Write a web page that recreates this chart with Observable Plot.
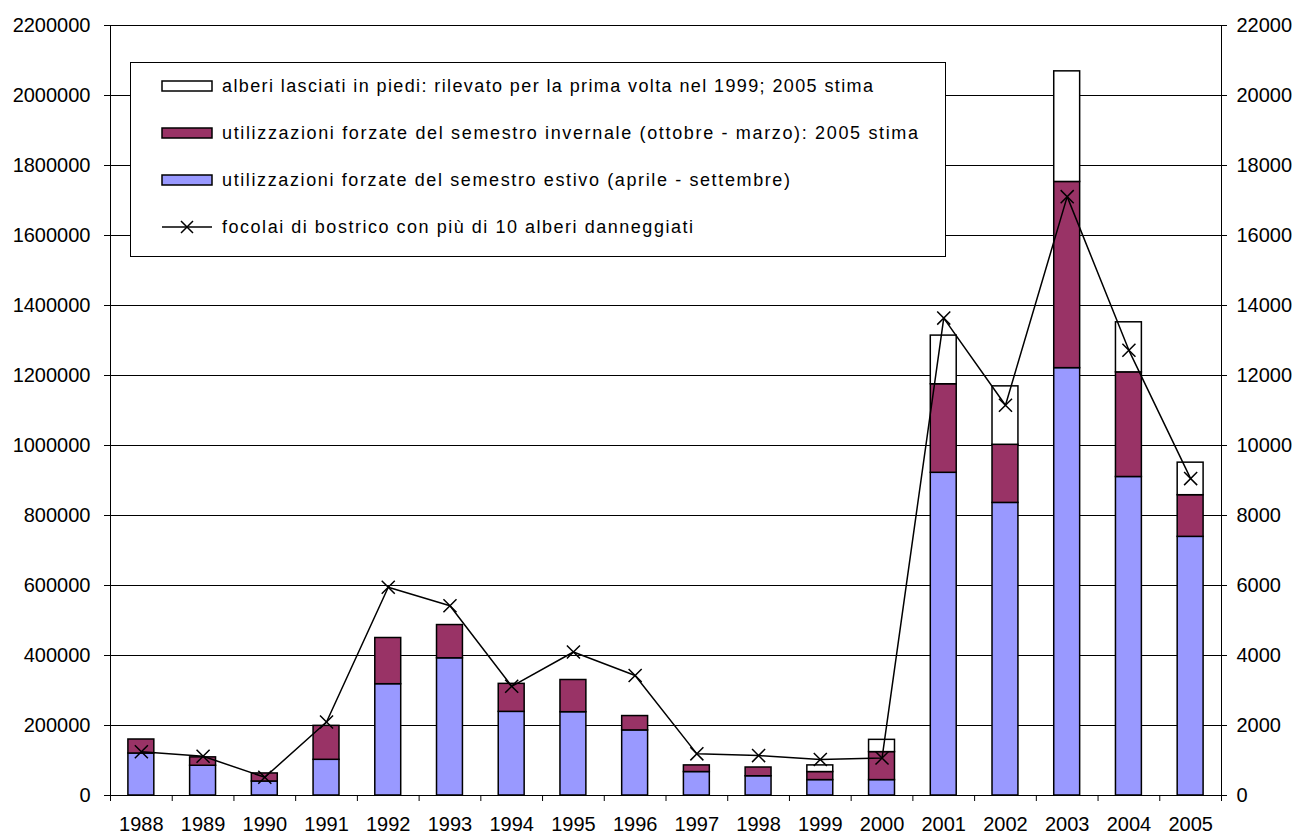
<!DOCTYPE html>
<html>
<head>
<meta charset="utf-8">
<script src="https://cdn.jsdelivr.net/npm/d3@7"></script>
<script src="https://cdn.jsdelivr.net/npm/@observablehq/plot@0.6"></script>
<style>
  html, body { margin: 0; padding: 0; background: #fff; }
  #wrap { position: relative; width: 1298px; height: 835px; font-family: "Liberation Sans", Arial, sans-serif; }
  #legend { position: absolute; left: 130px; top: 62px; }
</style>
</head>
<body>
<div id="wrap">
  <div id="chart"></div>
  <svg id="legend" width="816" height="195"></svg>
</div>
<script>
// ---- data ----
const years = [1988, 1989, 1990, 1991, 1992, 1993, 1994, 1995, 1996, 1997, 1998, 1999, 2000, 2001, 2002, 2003, 2004, 2005];
// utilizzazioni forzate del semestre estivo (m3)
const estivo = [120000, 85000, 40000, 102000, 318000, 392000, 239000, 238000, 186000, 67000, 55000, 44000, 44000, 922000, 836000, 1221000, 910000, 739000];
// utilizzazioni forzate del semestre invernale (m3)
const invernale = [40000, 24000, 23000, 97000, 132000, 95000, 80000, 92000, 41000, 19000, 25000, 23000, 80000, 253000, 166000, 532000, 299000, 119000];
// alberi lasciati in piedi (m3)
const inPiedi = [0, 0, 0, 0, 0, 0, 0, 0, 0, 0, 0, 19000, 35000, 139000, 167000, 316000, 143000, 93000];
// focolai di bostrico (right axis)
const focolai = [1250, 1120, 520, 2100, 5950, 5420, 3120, 4100, 3430, 1190, 1140, 1030, 1070, 13640, 11150, 17110, 12720, 9055];

const leftTicks = [0, 200000, 400000, 600000, 800000, 1000000, 1200000, 1400000, 1600000, 1800000, 2000000, 2200000];
const rightRatio = 100; // right axis value * 100 = left axis value

const seriesNames = [
  "utilizzazioni forzate del semestro estivo (aprile - settembre)",
  "utilizzazioni forzate del semestro invernale (ottobre - marzo): 2005 stima",
  "alberi lasciati in piedi: rilevato per la prima volta nel 1999; 2005 stima"
];
const lineName = "focolai di bostrico con più di 10 alberi danneggiati";
const seriesColors = ["#9999FF", "#993366", "#FFFFFF"];

// ---- build stacked table ----
const stackRows = [];
years.forEach((yr, i) => {
  let base = 0;
  [estivo[i], invernale[i], inPiedi[i]].forEach((v, s) => {
    if (v > 0) stackRows.push({year: yr, series: seriesNames[s], y1: base, y2: base + v});
    base += v;
  });
});
const lineRows = years.map((yr, i) => ({year: yr, value: focolai[i] * rightRatio}));
const half = 0.21;
const bounds = d3.range(years.length + 1).map(i => years[0] - 0.5 + i);

const chart = Plot.plot({
  width: 1298,
  height: 835,
  marginLeft: 110,
  marginRight: 77,
  marginTop: 25,
  marginBottom: 40,
  style: {fontFamily: '"Liberation Sans", Arial, sans-serif', fontSize: "20px", color: "#000", background: "#fff"},
  x: {domain: [years[0] - 0.5, years[years.length - 1] + 0.5]},
  y: {domain: [0, 2200000]},
  color: {domain: seriesNames, range: seriesColors},
  marks: [
    Plot.ruleY(leftTicks.filter(d => d > 0), {stroke: "#000", strokeWidth: 1}),
    Plot.rectY(stackRows, {x1: d => d.year - half, x2: d => d.year + half, y1: "y1", y2: "y2", fill: "series", stroke: "#000", strokeWidth: 1.5}),
    Plot.ruleY([0], {stroke: "#000", strokeWidth: 1}),
    Plot.ruleX([bounds[0], bounds[bounds.length - 1]], {y1: 0, y2: 2200000, stroke: "#000", strokeWidth: 1}),
    Plot.line(lineRows, {x: "year", y: "value", stroke: "#000", strokeWidth: 1.5}),
    Plot.dot(lineRows, {x: "year", y: "value", symbol: "times", r: 6, stroke: "#000", strokeWidth: 1.5}),
    Plot.axisY({anchor: "left", ticks: leftTicks, tickSize: 6, tickPadding: 14, tickFormat: d3.format("d"), label: null, fontSize: 20}),
    Plot.axisY({anchor: "right", ticks: leftTicks, tickSize: 5, tickPadding: 10, tickFormat: d => String(d / rightRatio), label: null, fontSize: 20}),
    Plot.axisX({ticks: bounds, tickSize: 6, tickFormat: () => "", label: null}),
    Plot.axisX({ticks: years, tickSize: 0, tickPadding: 21, tickFormat: d => String(d), label: null, fontSize: 20})
  ]
});
document.getElementById("chart").appendChild(chart);

// ---- legend (inside the plot area, like the original) ----
const legendItems = [
  {name: seriesNames[2], color: seriesColors[2], width: 651},
  {name: seriesNames[1], color: seriesColors[1], width: 696},
  {name: seriesNames[0], color: seriesColors[0], width: 568},
  {name: lineName, line: true, width: 471}
];
const lg = d3.select("#legend");
lg.append("rect").attr("x", 0.5).attr("y", 0.5).attr("width", 815).attr("height", 194)
  .attr("fill", "#fff").attr("stroke", "#000").attr("stroke-width", 1);
legendItems.forEach((it, i) => {
  const cy = 24 + i * 47;
  const g = lg.append("g");
  if (it.line) {
    g.append("line").attr("x1", 32).attr("x2", 82).attr("y1", cy).attr("y2", cy).attr("stroke", "#000").attr("stroke-width", 1.5);
    g.append("path").attr("d", `M${57 - 6},${cy - 6}L${57 + 6},${cy + 6}M${57 + 6},${cy - 6}L${57 - 6},${cy + 6}`).attr("stroke", "#000").attr("stroke-width", 1.5);
  } else {
    g.append("rect").attr("x", 32).attr("y", cy - 5).attr("width", 50).attr("height", 10)
      .attr("fill", it.color).attr("stroke", "#000").attr("stroke-width", 1.5);
  }
  g.append("text").attr("x", 92).attr("y", cy).attr("dy", "0.35em")
    .attr("font-family", '"Liberation Sans", Arial, sans-serif').attr("font-size", 18)
    .attr("textLength", it.width).attr("lengthAdjust", "spacing")
    .text(it.name);
});
</script>
</body>
</html>
